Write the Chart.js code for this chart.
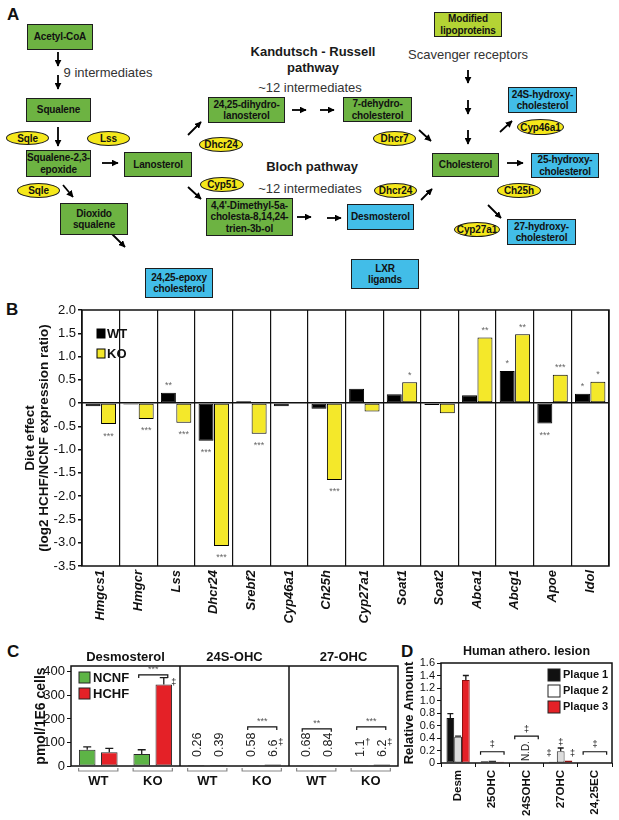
<!DOCTYPE html>
<html>
<head>
<meta charset="utf-8">
<script src="https://cdn.jsdelivr.net/npm/chart.js@4.4.1/dist/chart.umd.min.js"></script>
<style>
body { margin:0; background:#fff; font-family:'Liberation Sans', Arial, sans-serif; }
#page { position:relative; width:619px; height:820px; overflow:hidden; }
.letter { position:absolute; font-weight:bold; font-size:17px; color:#111; }
.node { position:absolute; box-sizing:border-box; border:1px solid #1d1d1d; display:flex; align-items:center; justify-content:center; text-align:center; white-space:nowrap; font-weight:bold; font-size:10px; letter-spacing:-0.15px; line-height:11.5px; color:#111; }
.pill { position:absolute; box-sizing:border-box; border:1px solid #1d1d1d; border-radius:50%; background:#f5e81b; display:flex; align-items:center; justify-content:center; white-space:nowrap; font-weight:bold; font-size:10px; letter-spacing:-0.1px; color:#111; }
.txt { position:absolute; transform:translate(-50%,-50%); white-space:nowrap; font-size:13px; color:#333; }
.txt.b { font-weight:bold; color:#1a1a1a; }
.wrap { position:absolute; }
</style>
</head>
<body>
<div id="page">
  <div class="letter" style="left:7px;top:5px">A</div>
  <div class="letter" style="left:6px;top:300px">B</div>
  <div class="letter" style="left:7px;top:642px">C</div>
  <div class="letter" style="left:401px;top:642px">D</div>
  <div id="diagram"></div>
  <div class="wrap" style="left:0;top:290px;width:619px;height:340px"><canvas id="chartB"></canvas></div>
  <div class="wrap" style="left:0;top:640px;width:405px;height:180px"><canvas id="chartC"></canvas></div>
  <div class="wrap" style="left:400px;top:640px;width:219px;height:180px"><canvas id="chartD"></canvas></div>
</div>
<script>
// ---------- panel B: diet effect per gene
const genes = ['Hmgcs1', 'Hmgcr', 'Lss', 'Dhcr24', 'Srebf2', 'Cyp46a1', 'Ch25h', 'Cyp27a1', 'Soat1', 'Soat2', 'Abca1', 'Abcg1', 'Apoe', 'Idol'];
const wtEffect = [-0.07, -0.03, 0.22, -0.81, 0.04, -0.07, -0.12, 0.31, 0.19, -0.04, 0.17, 0.69, -0.44, 0.2];
const koEffect = [-0.45, -0.34, -0.42, -3.07, -0.66, 0.02, -1.65, -0.18, 0.45, -0.22, 1.41, 1.48, 0.61, 0.46];
const wtStars = ['', '', '**', '***', '', '', '', '', '', '', '', '*', '***', '*'];
const koStars = ['***', '***', '***', '***', '***', '', '***', '', '*', '', '**', '**', '***', '*'];

// ---------- panel C: sterols in macrophages
const cGroups = ['WT', 'KO', 'WT', 'KO', 'WT', 'KO'];
const cPanels = ['Desmosterol', '24S-OHC', '27-OHC'];
const ncnfVals = [69, 51, 0.26, 0.58, 0.68, 1.1];
const hchfVals = [58, 346, 0.39, 6.6, 0.84, 6.2];
const ncnfErr = [12, 18, 0, 0, 0, 0];
const hchfErr = [17, 30, 0, 0, 0, 0];
const ncnfMark = ['', '', '', '', '', '†'];
const hchfMark = ['', '‡', '', '‡', '', '‡'];
const cSig = [
  { group: 1, at: 387, text: '***' },
  { group: 3, at: 166, text: '***' },
  { group: 4, at: 158, text: '**' },
  { group: 5, at: 166, text: '***' }
];

// ---------- panel D: human lesions
const dCats = ['Desm', '25OHC', '24SOHC', '27OHC', '24,25EC'];
const plaque1 = [0.72, 0.03, null, 0.02, 0.01];
const plaque2 = [0.42, 0.04, null, 0.19, 0.01];
const plaque3 = [1.33, 0.02, null, 0.04, 0.01];
const plaque1Err = [0.07, 0, 0, 0, 0];
const plaque2Err = [0.01, 0, 0, 0.05, 0];
const plaque3Err = [0.07, 0, 0, 0, 0];
const dSig = [{ cat: 1, at: 0.18 }, { cat: 2, at: 0.43 }, { cat: 4, at: 0.18 }];

// ---------- panel A: pathway diagram (plain html)
const green = '#6db342', blue = '#42bde8', lime = '#b4d334';
const nodes = [
  ['Acetyl-CoA', 27, 24, 66, 26, green],
  ['Squalene', 26, 98, 65, 24, green],
  ['Squalene-2,3-<br>epoxide', 26, 150, 65, 27, green],
  ['Lanosterol', 124, 152, 68, 25, green],
  ['Dioxido<br>squalene', 60, 203, 68, 32, green],
  ['24,25-epoxy<br>cholesterol', 145, 268, 68, 30, blue],
  ['LXR<br>ligands', 351, 259, 68, 30, blue],
  ['24,25-dihydro-<br>lanosterol', 208, 97, 77, 26, green],
  ['7-dehydro-<br>cholesterol', 343, 97, 69, 25, green],
  ['4,4\'-Dimethyl-5a-<br>cholesta-8,14,24-<br>trien-3b-ol', 206, 198, 87, 38, green],
  ['Desmosterol', 347, 204, 67, 26, blue],
  ['Modified<br>lipoproteins', 434, 12, 68, 25, lime],
  ['Cholesterol', 432, 153, 67, 24, green],
  ['24S-hydroxy-<br>cholesterol', 508, 87, 69, 26, blue],
  ['25-hydroxy-<br>cholesterol', 531, 153, 68, 25, blue],
  ['27-hydroxy-<br>cholesterol', 507, 219, 69, 26, blue]
];
const pills = [
  ['Sqle', 6, 131, 43, 14], ['Lss', 87, 131, 43, 15], ['Sqle', 17, 183, 43, 15],
  ['Dhcr24', 199, 137, 44, 15], ['Cyp51', 200, 177, 44, 15], ['Dhcr7', 373, 131, 43, 15],
  ['Dhcr24', 374, 183, 43, 15], ['Cyp46a1', 517, 119, 47, 16], ['Ch25h', 497, 183, 44, 15],
  ['Cyp27a1', 454, 222, 46, 15]
];
const words = [
  ['9 intermediates', 108, 72, ''],
  ['Kandutsch - Russell', 313, 51, 'b'], ['pathway', 313, 67, 'b'],
  ['~12 intermediates', 310, 87, ''],
  ['Bloch pathway', 312, 166, 'b'],
  ['~12 intermediates', 310, 188, ''],
  ['Scavenger receptors', 468, 54, '']
];
const arrows = [
  [58, 52, 58, 66], [58, 75, 58, 89], [58, 127, 58, 146], [102, 163, 118, 163],
  [63, 185, 73, 197], [112, 234, 125, 247], [188, 135, 201, 122], [188, 187, 201, 199],
  [292, 110, 306, 110], [320, 110, 334, 110], [419, 130, 431, 141], [297, 217, 311, 217],
  [327, 218, 341, 218], [421, 200, 432, 189], [468, 70, 468, 83], [468, 100, 468, 114],
  [468, 130, 468, 144], [507, 163, 523, 163], [500, 132, 512, 121], [488, 205, 501, 218]
];

let html = '';
nodes.forEach(n => {
  html += `<div class="node" style="left:${n[1]}px;top:${n[2]}px;width:${n[3]}px;height:${n[4]}px;background:${n[5]}">${n[0]}</div>`;
});
pills.forEach(p => {
  html += `<div class="pill" style="left:${p[1]}px;top:${p[2]}px;width:${p[3]}px;height:${p[4]}px">${p[0]}</div>`;
});
words.forEach(w => {
  html += `<div class="txt ${w[3]}" style="left:${w[1]}px;top:${w[2]}px">${w[0]}</div>`;
});
let svg = '<svg width="619" height="300" style="position:absolute;left:0;top:0"><defs>' +
  '<marker id="ah" viewBox="0 0 10 10" refX="9" refY="5" markerWidth="7" markerHeight="7" markerUnits="userSpaceOnUse" orient="auto">' +
  '<path d="M0,0 L10,5 L0,10 z" fill="#000"/></marker></defs>';
arrows.forEach(a => {
  svg += `<line x1="${a[0]}" y1="${a[1]}" x2="${a[2]}" y2="${a[3]}" stroke="#000" stroke-width="1.8" marker-end="url(#ah)"/>`;
});
svg += '</svg>';
document.getElementById('diagram').innerHTML = svg + html;

// ---------- shared bits
const FONT = "'Liberation Sans', Arial, sans-serif";
Chart.defaults.font.family = FONT;
Chart.defaults.color = '#111';

function frame(ctx, a) {
  ctx.strokeStyle = '#111';
  ctx.lineWidth = 1.5;
  ctx.strokeRect(a.left, a.top, a.right - a.left, a.bottom - a.top);
}

function bracket(ctx, x1, x2, y, tick) {
  ctx.beginPath();
  ctx.moveTo(x1, y + tick);
  ctx.lineTo(x1, y);
  ctx.lineTo(x2, y);
  ctx.lineTo(x2, y + tick);
  ctx.stroke();
}

const errorBars = {
  id: 'errorBars',
  afterDatasetsDraw(chart, args, opts) {
    const { ctx, scales: { y } } = chart;
    ctx.save();
    ctx.strokeStyle = '#1a1a1a';
    ctx.lineWidth = 1.3;
    chart.data.datasets.forEach((ds, di) => {
      if (!ds.errors) return;
      chart.getDatasetMeta(di).data.forEach((el, i) => {
        const e = ds.errors[i];
        if (!e || ds.data[i] == null) return;
        const top = y.getPixelForValue(ds.data[i] + e);
        const w = opts.cap / 2;
        ctx.beginPath();
        ctx.moveTo(el.x, el.y);
        ctx.lineTo(el.x, top);
        ctx.moveTo(el.x - w, top);
        ctx.lineTo(el.x + w, top);
        ctx.stroke();
      });
    });
    ctx.restore();
  }
};

// ---------- chart B
const bDecor = {
  id: 'bDecor',
  afterDraw(chart) {
    const { ctx, chartArea: a } = chart;
    ctx.save();
    frame(ctx, a);
    // stars at the end of each bar
    ctx.font = '9px ' + FONT;
    ctx.fillStyle = '#666';
    ctx.textAlign = 'center';
    ctx.textBaseline = 'middle';
    chart.data.datasets.forEach((ds, di) => {
      chart.getDatasetMeta(di).data.forEach((el, i) => {
        const s = ds.stars[i];
        if (!s) return;
        const yy = ds.data[i] >= 0 ? el.y - 7 : el.y + 12;
        ctx.fillText(s, el.x, yy);
      });
    });
    // legend inside plot
    ctx.font = 'bold 13px ' + FONT;
    ctx.textAlign = 'left';
    chart.data.datasets.forEach((ds, i) => {
      const x = a.left + 15, y = a.top + 19 + i * 20;
      ctx.fillStyle = ds.backgroundColor;
      ctx.fillRect(x, y, 8, 9);
      ctx.strokeStyle = '#000';
      ctx.lineWidth = 1;
      ctx.strokeRect(x, y, 8, 9);
      ctx.fillStyle = '#111';
      ctx.fillText(ds.label, x + 10, y + 5);
    });
    ctx.restore();
  }
};

new Chart(document.getElementById('chartB'), {
  type: 'bar',
  data: {
    labels: genes,
    datasets: [
      { label: 'WT', data: wtEffect, stars: wtStars, backgroundColor: '#000', borderColor: '#000', borderWidth: 1, borderSkipped: false, categoryPercentage: 0.82, barPercentage: 0.97 },
      { label: 'KO', data: koEffect, stars: koStars, backgroundColor: '#f4e82a', borderColor: '#000', borderWidth: 1, borderSkipped: false, categoryPercentage: 0.82, barPercentage: 0.97 }
    ]
  },
  options: {
    responsive: true,
    maintainAspectRatio: false,
    animation: false,
    layout: { padding: { top: 20, right: 10 } },
    plugins: { legend: { display: false }, tooltip: { enabled: false } },
    scales: {
      x: {
        offset: true,
        grid: { offset: true, color: '#111', lineWidth: 1.2, drawTicks: false },
        border: { display: false },
        ticks: { autoSkip: false, minRotation: 90, maxRotation: 90, padding: 4, font: { size: 13, weight: 'bold', style: 'italic' } },
        afterFit: s => { s.height = 64; }
      },
      y: {
        min: -3.5,
        max: 2,
        ticks: { stepSize: 0.5, autoSkip: false, padding: 2, font: { size: 13 }, callback: v => Math.abs(v) < 1e-9 ? '0' : v.toFixed(1) },
        grid: { color: c => c.tick && Math.abs(c.tick.value) < 1e-9 ? '#111' : 'rgba(0,0,0,0)', lineWidth: 1.5, tickColor: '#111', tickLength: 4 },
        border: { display: false },
        title: { display: true, text: ['Diet effect', '(log2 HCHF/NCNF expression ratio)'], font: { size: 13.5, weight: 'bold', lineHeight: 1.05 }, padding: { top: 23, bottom: 0 } },
        afterFit: s => { s.width = 82; }
      }
    }
  },
  plugins: [bDecor]
});

// ---------- chart C
const cDecor = {
  id: 'cDecor',
  afterDraw(chart) {
    const { ctx, chartArea: a, scales: { x, y } } = chart;
    const half = (x.getPixelForValue(1) - x.getPixelForValue(0)) / 2;
    ctx.save();
    frame(ctx, a);
    for (let p = 1; p < cPanels.length; p++) {
      const xx = x.getPixelForValue(p * 2) - half;
      ctx.beginPath();
      ctx.moveTo(xx, a.top);
      ctx.lineTo(xx, a.bottom);
      ctx.stroke();
    }
    // panel titles
    ctx.fillStyle = '#111';
    ctx.font = 'bold 13px ' + FONT;
    ctx.textAlign = 'center';
    ctx.textBaseline = 'middle';
    cPanels.forEach((t, p) => ctx.fillText(t, x.getPixelForValue(p * 2) + half, a.top - 9));
    // group brackets under the axis
    ctx.strokeStyle = '#888';
    ctx.lineWidth = 1.2;
    cGroups.forEach((g, i) => {
      const cx = x.getPixelForValue(i), w = half * 0.72;
      bracket(ctx, cx - w, cx + w, a.bottom + 5, -3);
    });
    // legend
    ctx.textAlign = 'left';
    chart.data.datasets.forEach((ds, i) => {
      const lx = a.left + 8, ly = a.top + 6 + i * 16;
      ctx.fillStyle = ds.backgroundColor;
      ctx.fillRect(lx, ly, 11, 11);
      ctx.strokeStyle = '#222';
      ctx.lineWidth = 1;
      ctx.strokeRect(lx, ly, 11, 11);
      ctx.fillStyle = '#111';
      ctx.fillText(ds.label, lx + 14, ly + 6);
    });
    // rotated values for the small sterols, and the marks
    chart.data.datasets.forEach((ds, di) => {
      chart.getDatasetMeta(di).data.forEach((el, i) => {
        const mark = ds.marks[i];
        if (Math.floor(i / 2) > 0) {
          const txt = String(ds.data[i]);
          ctx.font = '12.5px ' + FONT;
          const w = ctx.measureText(txt).width;
          ctx.save();
          ctx.translate(el.x + 1, a.bottom - 9);
          ctx.rotate(-Math.PI / 2);
          ctx.textAlign = 'left';
          ctx.textBaseline = 'middle';
          ctx.fillStyle = '#222';
          ctx.fillText(txt, 0, 0);
          ctx.restore();
          if (mark) {
            ctx.font = '9px ' + FONT;
            ctx.textAlign = 'center';
            ctx.fillText(mark, el.x + 8, a.bottom - 9 - w + 3);
          }
        } else if (mark) {
          ctx.font = '9px ' + FONT;
          ctx.textAlign = 'center';
          ctx.fillText(mark, el.x + 10, y.getPixelForValue(ds.data[i] + ds.errors[i]) + 5);
        }
      });
    });
    // significance brackets
    const m0 = chart.getDatasetMeta(0).data, m1 = chart.getDatasetMeta(1).data;
    ctx.strokeStyle = '#111';
    ctx.lineWidth = 1.2;
    ctx.textAlign = 'center';
    ctx.font = '9px ' + FONT;
    ctx.fillStyle = '#555';
    cSig.forEach(s => {
      const yy = y.getPixelForValue(s.at);
      const x1 = m0[s.group].x - 3, x2 = m1[s.group].x + 4;
      bracket(ctx, x1, x2, yy, 3);
      ctx.fillText(s.text, (x1 + x2) / 2, yy - 5);
    });
    ctx.restore();
  }
};

new Chart(document.getElementById('chartC'), {
  type: 'bar',
  data: {
    labels: cGroups,
    datasets: [
      { label: 'NCNF', data: ncnfVals, errors: ncnfErr, marks: ncnfMark, backgroundColor: '#5db446', borderColor: '#2a2a2a', borderWidth: 1, borderSkipped: false, categoryPercentage: 0.81, barPercentage: 0.75 },
      { label: 'HCHF', data: hchfVals, errors: hchfErr, marks: hchfMark, backgroundColor: '#e42127', borderColor: '#2a2a2a', borderWidth: 1, borderSkipped: false, categoryPercentage: 0.81, barPercentage: 0.75 }
    ]
  },
  options: {
    responsive: true,
    maintainAspectRatio: false,
    animation: false,
    layout: { padding: { top: 26, right: 7 } },
    plugins: { legend: { display: false }, tooltip: { enabled: false }, errorBars: { cap: 8 } },
    scales: {
      x: {
        grid: { display: false, drawTicks: false },
        border: { display: false },
        ticks: { padding: 8, font: { size: 13, weight: 'bold' } },
        afterFit: s => { s.height = 54; }
      },
      y: {
        min: 0,
        max: 425,
        ticks: { stepSize: 100, autoSkip: false, includeBounds: false, padding: 2, font: { size: 13 } },
        grid: { drawOnChartArea: false, color: '#111', tickLength: 4 },
        border: { display: false },
        title: { display: true, text: 'pmol/1E6 cells', font: { size: 14, weight: 'bold', lineHeight: 1 }, padding: { top: 34, bottom: 0 } },
        afterFit: s => { s.width = 71; }
      }
    }
  },
  plugins: [errorBars, cDecor]
});

// ---------- chart D
const dDecor = {
  id: 'dDecor',
  afterDraw(chart) {
    const { ctx, chartArea: a, scales: { x, y } } = chart;
    ctx.save();
    frame(ctx, a);
    // title
    ctx.fillStyle = '#111';
    ctx.font = 'bold 12.5px ' + FONT;
    ctx.textAlign = 'center';
    ctx.textBaseline = 'middle';
    ctx.fillText('Human athero. lesion', (a.left + a.right) / 2, a.top - 11);
    // legend top right
    ctx.font = 'bold 11px ' + FONT;
    ctx.textAlign = 'left';
    chart.data.datasets.forEach((ds, i) => {
      const lx = a.right - 64, ly = a.top + 6 + i * 16;
      ctx.fillStyle = ds.legendColor;
      ctx.fillRect(lx, ly, 12, 12);
      ctx.strokeStyle = '#222';
      ctx.lineWidth = 1;
      ctx.strokeRect(lx, ly, 12, 12);
      ctx.fillStyle = '#111';
      ctx.fillText(ds.label, lx + 15, ly + 6);
    });
    // brackets over the small groups
    const m0 = chart.getDatasetMeta(0).data, m1 = chart.getDatasetMeta(1).data, m2 = chart.getDatasetMeta(2).data;
    ctx.strokeStyle = '#111';
    ctx.lineWidth = 1.2;
    ctx.textAlign = 'center';
    ctx.font = '9px ' + FONT;
    dSig.forEach(s => {
      const yy = y.getPixelForValue(s.at);
      const x1 = m0[s.cat].x - 4, x2 = m2[s.cat].x + 4;
      bracket(ctx, x1, x2, yy, 3);
      ctx.fillText('‡', (x1 + x2) / 2, yy - 7);
    });
    // 27OHC marks
    const base = a.bottom - 9;
    ctx.fillText('‡', m0[3].x - 4, base);
    ctx.fillText('‡', m2[3].x + 4, base);
    ctx.fillText('‡', m1[3].x, y.getPixelForValue(plaque2[3] + plaque2Err[3]) - 5);
    // not detected
    ctx.save();
    ctx.translate(x.getPixelForValue(2), a.bottom - 2);
    ctx.rotate(-Math.PI / 2);
    ctx.textAlign = 'left';
    ctx.font = '10px ' + FONT;
    ctx.fillStyle = '#222';
    ctx.fillText('N.D.', 0, 0);
    ctx.restore();
    ctx.restore();
  }
};

new Chart(document.getElementById('chartD'), {
  type: 'bar',
  data: {
    labels: dCats,
    datasets: [
      { label: 'Plaque 1', data: plaque1, errors: plaque1Err, backgroundColor: '#111', legendColor: '#111', borderColor: '#111', borderWidth: 1, borderSkipped: false, categoryPercentage: 0.68, barPercentage: 1 },
      { label: 'Plaque 2', data: plaque2, errors: plaque2Err, backgroundColor: '#dcdcdc', legendColor: '#fff', borderColor: '#333', borderWidth: 1, borderSkipped: false, categoryPercentage: 0.68, barPercentage: 1 },
      { label: 'Plaque 3', data: plaque3, errors: plaque3Err, backgroundColor: '#e42127', legendColor: '#e42127', borderColor: '#8a1010', borderWidth: 1, borderSkipped: false, categoryPercentage: 0.68, barPercentage: 1 }
    ]
  },
  options: {
    responsive: true,
    maintainAspectRatio: false,
    animation: false,
    layout: { padding: { top: 23, right: 7 } },
    plugins: { legend: { display: false }, tooltip: { enabled: false }, errorBars: { cap: 6 } },
    scales: {
      x: {
        offset: true,
        grid: { offset: true, drawOnChartArea: false, color: '#111', tickLength: 4 },
        border: { display: false },
        ticks: { autoSkip: false, minRotation: 90, maxRotation: 90, padding: 3, font: { size: 11.5, weight: 'bold' } },
        afterFit: s => { s.height = 57; }
      },
      y: {
        min: 0,
        max: 1.6,
        ticks: { stepSize: 0.2, autoSkip: false, padding: 2, font: { size: 11 }, callback: v => v === 0 ? '0' : v.toFixed(1) },
        grid: { drawOnChartArea: false, color: '#111', tickLength: 4 },
        border: { display: false },
        title: { display: true, text: 'Relative Amount', font: { size: 13, weight: 'bold', lineHeight: 1 }, padding: { top: 3, bottom: 0 } },
        afterFit: s => { s.width = 41; }
      }
    }
  },
  plugins: [errorBars, dDecor]
});
</script>
</body>
</html>
